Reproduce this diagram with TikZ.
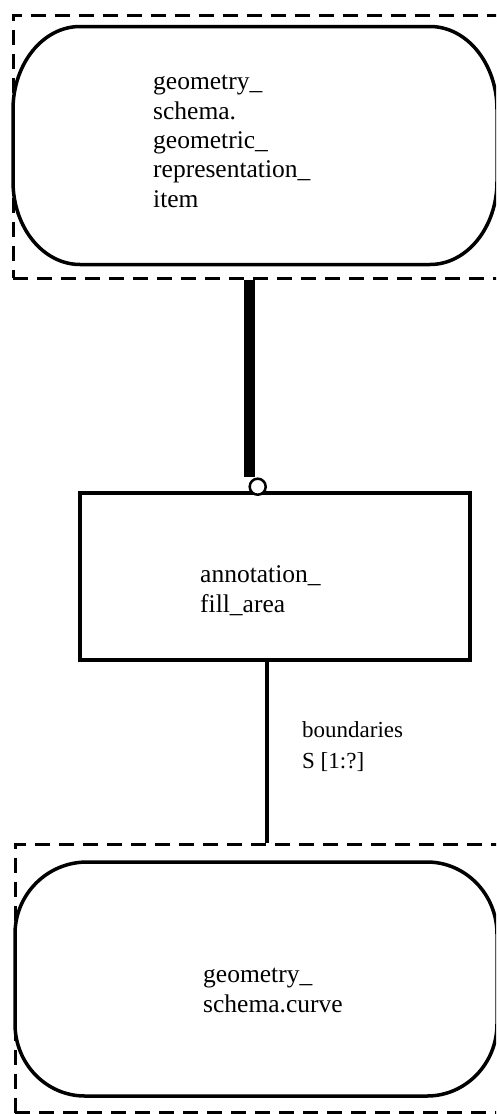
\documentclass[tikz,border=0pt]{standalone}
\usepackage{fontspec}
\setmainfont{Liberation Serif}
\begin{document}
\begin{tikzpicture}[x=1pt,y=-1pt,
  dashbox/.style={draw, line width=3pt, dash pattern=on 15pt off 9pt, rectangle, inner sep=0pt},
  roundline/.style={line width=3.5pt},
  entbox/.style={draw, rectangle, line width=4pt, inner sep=0pt},
  txt/.style={anchor=base west, align=left, inner sep=0pt, font=\fontsize{25.5}{29.3}\selectfont},
  lbl/.style={anchor=base west, align=left, inner sep=0pt, font=\fontsize{23}{31}\selectfont},
  thickrel/.style={line width=10.5pt},
  rel/.style={line width=4pt}
]
\useasboundingbox (0,0) rectangle (496,1114);
\clip (0,0) rectangle (496,1114);
\fill[white] (0,0) rectangle (496,1114);

% top dashed box
\node[dashbox, minimum width=497pt, minimum height=263pt] (topbox) at (261.5,146.5) {};
% top rounded shape
\draw[roundline] (80,26.5) -- (430,26.5)
  arc[start angle=-90, end angle=0, x radius=67, y radius=83] -- (497,181.5)
  arc[start angle=0, end angle=90, x radius=67, y radius=83] -- (80,264.5)
  arc[start angle=90, end angle=180, x radius=67, y radius=83] -- (13,109.5)
  arc[start angle=180, end angle=270, x radius=67, y radius=83] -- cycle;
\node[txt] (toptext) at (153,207) {geometry\_\\schema.\\geometric\_\\representation\_\\item};

% middle entity
\node[entbox, minimum width=390pt, minimum height=167pt] (ent) at (275,576.5) {};
\node[txt] (enttext) at (200,612) {annotation\_\\fill\_area};

% bottom dashed box
\node[dashbox, minimum width=495pt, minimum height=268.5pt] (botbox) at (262.5,978.25) {};
% bottom rounded shape
\draw[roundline] (87,862) -- (427,862)
  arc[start angle=-90, end angle=0, x radius=70, y radius=72] -- (497,1024)
  arc[start angle=0, end angle=90, x radius=70, y radius=72] -- (85,1096)
  arc[start angle=90, end angle=180, x radius=70, y radius=72] -- (15,934)
  arc[start angle=180, end angle=270, x radius=72, y radius=72] -- cycle;
\node[txt] (bottext) at (203,1012) {geometry\_\\schema.curve};

% thick supertype connector with circle
\coordinate (barend) at (249.7,477);
\draw[thickrel] (topbox.south -| barend) -- (barend);
\node[draw, circle, line width=2.5pt, fill=white, minimum size=16pt, inner sep=0pt] (ring) at (257.7,486.7) {};

% boundaries relation
\coordinate (relx) at (266.7,0);
\draw[rel] (ent.south -| relx) -- (botbox.north -| relx);
\node[lbl] (rellabel) at (302,768) {boundaries\\S [1:?]};
\end{tikzpicture}
\end{document}
